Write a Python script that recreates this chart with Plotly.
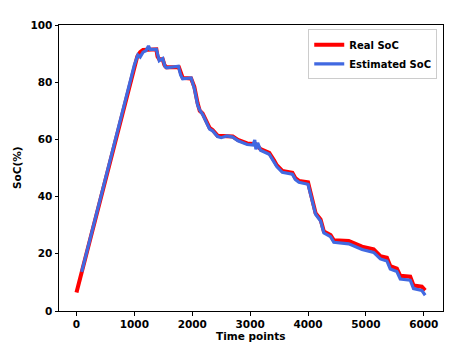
import plotly.graph_objects as go

# Real SoC
real_t = [0, 1050, 1100, 1150, 1380, 1400, 1430, 1490, 1520, 1550, 1770, 1800, 1835, 1980, 2000,
          2036, 2093, 2130, 2179, 2220, 2250, 2300, 2351, 2437, 2700, 2790, 2950, 3100, 3180, 3330,
          3410, 3460, 3556, 3730, 3780, 3843, 4000, 4045, 4101, 4131, 4217, 4274, 4389, 4446, 4704,
          4790, 4933, 5134, 5180, 5250, 5363, 5421, 5535, 5594, 5766, 5823, 5966, 6024]
real_soc = [6.5, 89.0, 90.5, 91.3, 91.5, 89.0, 88.0, 88.0, 86.0, 85.2, 85.2, 83.0, 81.5, 81.3, 80.5,
            78.4, 72.6, 70.0, 69.1, 67.5, 66.5, 64.0, 63.3, 61.3, 61.0, 59.8, 58.6, 58.3, 56.6, 55.3,
            52.8, 51.0, 49.0, 48.3, 46.5, 45.5, 45.0, 41.5, 36.5, 34.2, 32.0, 27.8, 26.6, 24.7, 24.5,
            23.8, 22.5, 21.6, 20.5, 19.2, 18.6, 15.7, 14.8, 12.3, 12.0, 8.9, 8.5, 7.2]

# Estimated SoC
est_t = [90, 300, 450, 600, 800, 1000, 1060, 1100, 1150, 1200, 1244, 1270, 1380, 1410, 1430, 1490,
         1530, 1560, 1700, 1760, 1800, 1835, 1980, 2010, 2040, 2093, 2130, 2179, 2220, 2250, 2300,
         2351, 2437, 2500, 2600, 2700, 2790, 2950, 3050, 3080, 3100, 3130, 3180, 3330, 3410, 3460,
         3556, 3730, 3780, 3843, 4000, 4045, 4101, 4131, 4217, 4274, 4389, 4446, 4704, 4790, 4933,
         5134, 5180, 5250, 5363, 5421, 5535, 5594, 5766, 5823, 5966, 6024]
est_soc = [13.7, 30.5, 42.5, 54.0, 70.5, 86.0, 89.5, 88.8, 90.5, 91.0, 92.7, 91.5, 91.5, 88.5, 87.5, 88.3,
           85.5, 85.0, 85.3, 85.6, 82.5, 81.2, 81.5, 79.5, 77.5, 72.0, 70.2, 68.8, 67.0, 66.0, 63.6,
           63.0, 61.0, 60.6, 61.2, 60.8, 59.5, 58.2, 58.0, 59.8, 56.5, 58.8, 56.2, 54.8, 52.0, 50.5,
           48.5, 47.8, 46.0, 45.0, 44.3, 40.8, 36.0, 33.8, 31.5, 27.3, 26.0, 24.0, 23.5, 22.8, 21.5,
           20.5, 19.5, 18.2, 17.5, 14.7, 13.8, 11.2, 10.8, 7.8, 7.2, 5.5]

x_ticks = [0, 1000, 2000, 3000, 4000, 5000, 6000]
y_ticks = [0, 20, 40, 60, 80, 100]

font = dict(family="DejaVu Sans", size=10.5, color="black", weight="bold")

fig = go.Figure()
fig.add_trace(go.Scatter(x=real_t, y=real_soc, mode="lines", name="Real SoC",
                         line=dict(color="#ff0000", width=4)))
fig.add_trace(go.Scatter(x=est_t, y=est_soc, mode="lines", name="Estimated SoC",
                         line=dict(color="#4169e1", width=3.2)))

fig.update_layout(
    width=455, height=347,
    margin=dict(l=59, r=12, t=25, b=36, autoexpand=False),
    paper_bgcolor="white", plot_bgcolor="white",
    font=font,
    showlegend=True,
    legend=dict(x=0.985, y=0.985, xanchor="right", yanchor="top",
                bgcolor="rgba(255,255,255,0.8)", bordercolor="#cccccc", borderwidth=1,
                font=dict(family="DejaVu Sans", size=10, color="black", weight="bold"),
                itemwidth=30, tracegroupgap=0),
    annotations=[
        dict(text="Time points", xref="paper", yref="paper", x=0.5, y=0,
             xanchor="center", yanchor="top", yshift=-17, showarrow=False, font=font),
        dict(text="SoC(%)", xref="paper", yref="paper", x=0, y=0.5, textangle=-90,
             xanchor="right", yanchor="middle", xshift=-34, showarrow=False, font=font),
    ],
)
fig.update_xaxes(range=[-302, 6332], tickvals=x_ticks, ticktext=[str(v) for v in x_ticks],
                 showgrid=False, zeroline=False, showline=True, mirror=True, automargin=False,
                 linecolor="black", linewidth=1, ticks="outside", ticklen=3.5,
                 tickcolor="black", tickfont=font)
fig.update_yaxes(range=[0, 100], tickvals=y_ticks, ticktext=[str(v) for v in y_ticks],
                 showgrid=False, zeroline=False, showline=True, mirror=True, automargin=False,
                 linecolor="black", linewidth=1, ticks="outside", ticklen=3.5,
                 tickcolor="black", tickfont=font)

fig.write_html("out.html")
